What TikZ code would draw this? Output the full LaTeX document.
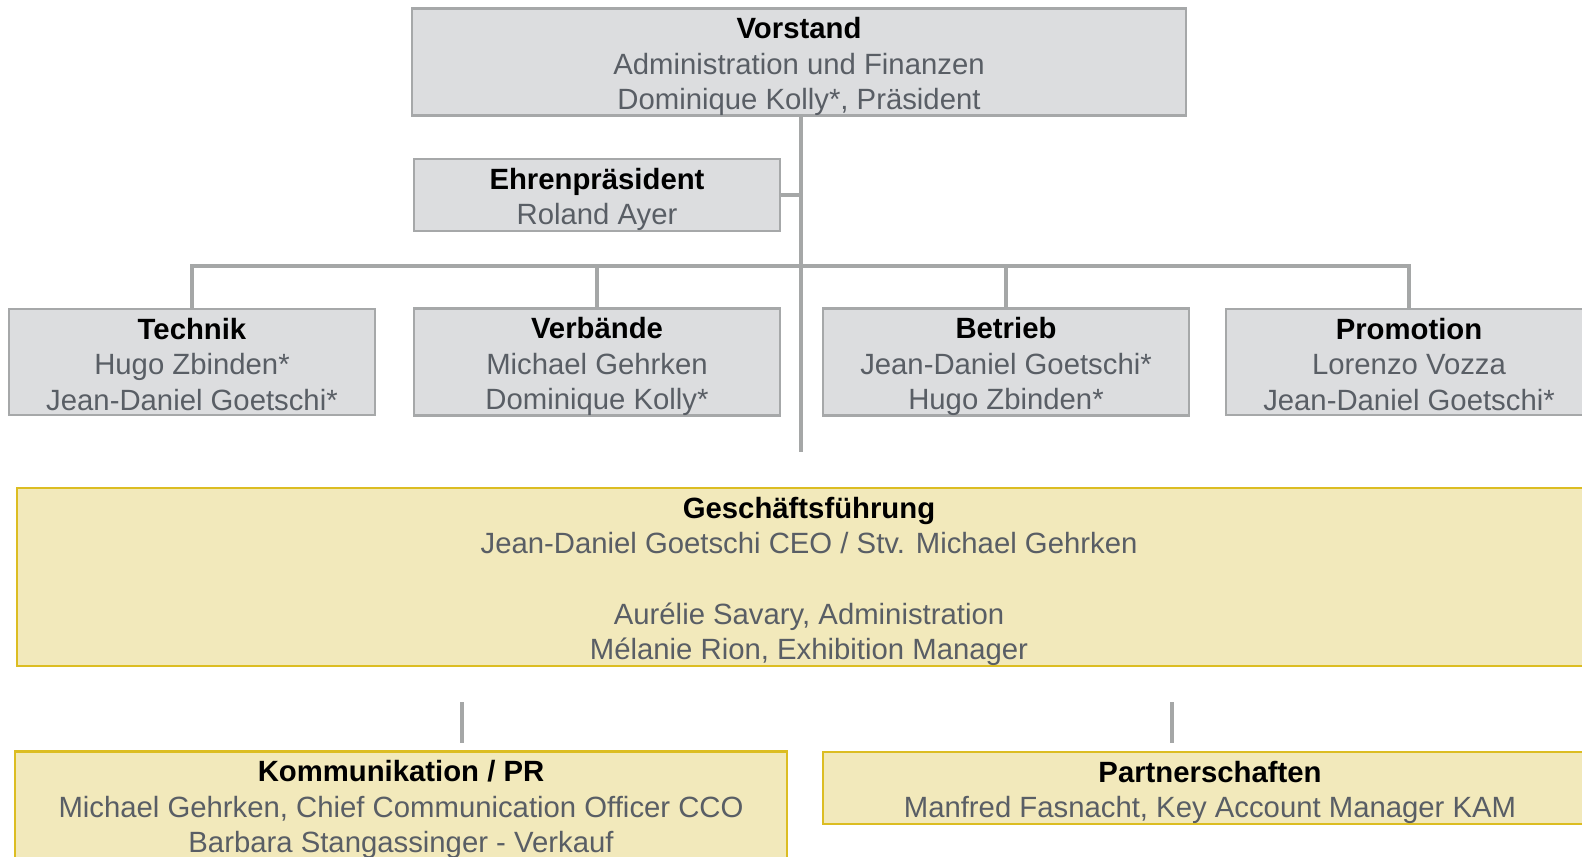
\documentclass[tikz,border=0pt]{standalone}
\usepackage{fontspec}
\setmainfont{Liberation Sans}
\usetikzlibrary{positioning}

\definecolor{boxgray}{HTML}{A6A8A9}
\definecolor{boxfill}{HTML}{DCDDDF}
\definecolor{namegray}{HTML}{595E65}
\definecolor{gold}{HTML}{DCBD22}
\definecolor{paleyellow}{HTML}{F2E9BB}
\definecolor{linegray}{HTML}{A5A7A7}

\newcommand{\orgfont}{\fontsize{14.65}{17.65}\selectfont}
\newcommand{\head}[1]{\rule{0pt}{15.3pt}{\bfseries\color{black}#1}}
\newcommand{\lastline}[1]{#1\rule[-2.4pt]{0pt}{2.4pt}}

\begin{document}
\begin{tikzpicture}[x=0.5pt, y=-0.5pt,
  gbox/.style={draw=boxgray, fill=boxfill, line width=1.2pt, inner sep=0pt,
    align=center, font=\orgfont, text=namegray},
  ybox/.style={gbox, draw=gold, fill=paleyellow},
  link/.style={draw=linegray, line width=2pt}]

\useasboundingbox (0,0) rectangle (1582,856);
\clip (0,0) rectangle (1582,856);

% Vorstand
\node[gbox, minimum width=387pt, minimum height=53pt] (vorstand) at (799,62)
  {\head{Vorstand}\\Administration und Finanzen\\\lastline{Dominique Kolly*, Präsident}};

% Ehrenpräsident
\node[gbox, minimum width=183pt, minimum height=36pt] (ehren) at (597,195)
  {\head{Ehrenpräsident}\\\lastline{Roland Ayer}};

% Ressorts
\node[gbox, minimum width=183pt, minimum height=53pt] (technik) at (192,362)
  {\head{Technik}\\Hugo Zbinden*\\\lastline{Jean-Daniel Goetschi*}};
\node[gbox, minimum width=183pt, minimum height=53pt] (verbaende) at (597,362)
  {\head{Verbände}\\Michael Gehrken\\\lastline{Dominique Kolly*}};
\node[gbox, minimum width=183pt, minimum height=53pt] (betrieb) at (1006,362)
  {\head{Betrieb}\\Jean-Daniel Goetschi*\\\lastline{Hugo Zbinden*}};
\node[gbox, minimum width=183pt, minimum height=53pt] (promotion) at (1409,362)
  {\head{Promotion}\\Lorenzo Vozza\\\lastline{Jean-Daniel Goetschi*}};

% Geschäftsführung
\node[ybox, minimum width=792pt, minimum height=89pt] (gf) at (809,577)
  {\head{Geschäftsführung}\\Jean-Daniel Goetschi CEO / Stv. Michael Gehrken\\[17.65pt]
   Aurélie Savary, Administration\\\lastline{Mélanie Rion, Exhibition Manager}};

% Kommunikation und Partnerschaften
\node[ybox, minimum width=386pt, minimum height=53pt] (komm) at (401,805)
  {\head{Kommunikation / PR}\\Michael Gehrken, Chief Communication Officer CCO\\
   \lastline{Barbara Stangassinger - Verkauf}};
\node[ybox, minimum width=387pt, minimum height=36pt] (partner) at (1210,788)
  {\head{Partnerschaften}\\\lastline{Manfred Fasnacht, Key Account Manager KAM}};

% Linien
\coordinate (trunkend) at (801,452);
\coordinate (bus) at (801,266);
\draw[link] (vorstand.south -| trunkend) -- (trunkend);
\draw[link] (ehren.east) -- (ehren.east -| trunkend);
\draw[link] (technik.north) -- (technik.north |- bus) -- (promotion.north |- bus)
  -- (promotion.north);
\draw[link] (verbaende.north) -- (verbaende.north |- bus);
\draw[link] (betrieb.north) -- (betrieb.north |- bus);

% kurze Striche
\coordinate (stubA) at (462,702);
\coordinate (stubB) at (1172,702);
\draw[link] (stubA) -- ++(0,41);
\draw[link] (stubB) -- ++(0,41);

\end{tikzpicture}
\end{document}
